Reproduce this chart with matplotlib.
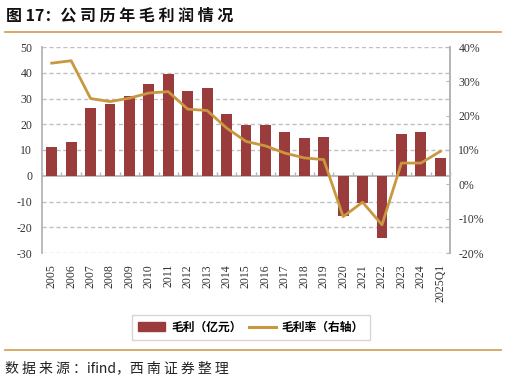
import matplotlib
matplotlib.use("Agg")
import matplotlib.pyplot as plt
from matplotlib.lines import Line2D
import numpy as np

categories = ["2005", "2006", "2007", "2008", "2009", "2010", "2011", "2012", "2013",
              "2014", "2015", "2016", "2017", "2018", "2019", "2020", "2021", "2022",
              "2023", "2024", "2025Q1"]
gross_profit = [11.2, 13.0, 26.4, 28.0, 30.8, 35.7, 39.5, 33.1, 33.9, 23.9, 19.6,
                19.6, 16.9, 14.8, 15.1, -15.8, -10.6, -24.0, 16.3, 16.8, 6.7]
gross_margin = [35.3, 36.0, 25.0, 24.1, 25.1, 26.6, 27.0, 21.9, 21.5, 16.4, 12.5,
                11.2, 9.1, 7.7, 7.2, -9.4, -5.2, -11.8, 6.2, 6.2, 9.6]
left_ticks = [-30, -20, -10, 0, 10, 20, 30, 40, 50]
right_ticks = [-20, -10, 0, 10, 20, 30, 40]

BAR = "#9b3c3c"
LINE = "#c9973f"
GRID = "#c0c0c0"
RULE = "#d5a35e"

plt.rcParams['font.family'] = ['Liberation Serif', 'Noto Sans CJK SC']
cjk = ['Noto Sans CJK SC', 'DejaVu Sans']

fig = plt.figure(figsize=(5.06, 3.82), dpi=100)
ax = fig.add_axes([42/506, 1-253/382, (450-42)/506, (253-47)/382])
x = np.arange(len(categories))

ax.bar(x, gross_profit, width=0.56, color=BAR, zorder=3)
ax.set_xlim(-0.5, len(categories)-0.5)
ax.set_ylim(-30, 50)
ax.set_yticks(left_ticks)
ax.set_yticklabels([str(v) for v in left_ticks], fontsize=8.5, color="#333333")
ax.tick_params(axis='y', length=0, pad=7)
ax.set_xticks(x)
ax.set_xticklabels(categories, rotation=90, fontsize=8.5, color="#333333")
ax.tick_params(axis='x', length=0, pad=8)
for yv in left_ticks:
    if yv != 0:
        ax.axhline(yv, color=GRID, lw=1.0, ls=(0, (3, 2)), zorder=1)
for s in ['top', 'bottom']:
    ax.spines[s].set_visible(False)
for s in ['left', 'right']:
    ax.spines[s].set_color("#b5b5b5")
    ax.spines[s].set_linewidth(1.3)

# zero axis with tick marks at category boundaries
sec = ax.secondary_xaxis(location=0, transform=ax.transData)
sec.set_xticks(np.arange(len(categories)+1) - 0.5)
sec.set_xticklabels([])
sec.tick_params(axis='x', direction='in', length=3, width=1.0, color="#b5b5b5")
sec.spines['bottom'].set_color("#b5b5b5")
sec.spines['bottom'].set_linewidth(1.3)

ax2 = ax.twinx()
ax2.plot(x, gross_margin, color=LINE, lw=2.0, zorder=4)
ax2.set_ylim(-20, 40)
ax2.set_yticks(right_ticks)
ax2.set_yticklabels([f"{v}%" for v in right_ticks], fontsize=8.5, color="#333333")
ax2.tick_params(axis='y', direction='in', length=3, color="#b5b5b5", pad=6)
for s in ['top', 'bottom', 'left']:
    ax2.spines[s].set_visible(False)
ax2.spines['right'].set_color("#b5b5b5")
ax2.spines['right'].set_linewidth(1.3)

handles = [plt.Rectangle((0, 0), 1, 1, color=BAR),
           Line2D([0], [0], color=LINE, lw=2.2)]
leg = fig.legend(handles, ["毛利（亿元）", "毛利率（右轴）"], loc='center',
                 bbox_to_anchor=(251/506, 1-327.5/382), ncol=2, frameon=True,
                 prop={'family': cjk, 'size': 8.5, 'weight': 'bold'},
                 fancybox=False, edgecolor="#cccccc", handlelength=2.3,
                 handleheight=0.8, columnspacing=0.6, handletextpad=0.5,
                 borderpad=0.5)
leg.get_frame().set_linewidth(1.0)

title_cn = " ".join("公司历年毛利润情况")
fig.text(6/506, 1-16/382, "图 17：" + title_cn, family=cjk, fontsize=11.5,
         weight='bold', va='center', ha='left', color="#111111")
fig.add_artist(Line2D([5/506, 501/506], [1-32/382, 1-32/382], color=RULE, lw=1.3))
fig.add_artist(Line2D([5/506, 501/506], [1-350/382, 1-350/382], color=RULE, lw=1.3))
src = " ".join("数据来源：") + "ifind，" + " ".join("西南证券整理")
fig.text(5/506, 1-368/382, src, family=cjk, fontsize=10,
         style='italic', va='center', ha='left', color="#222222")

fig.savefig("out.png", dpi=100)
